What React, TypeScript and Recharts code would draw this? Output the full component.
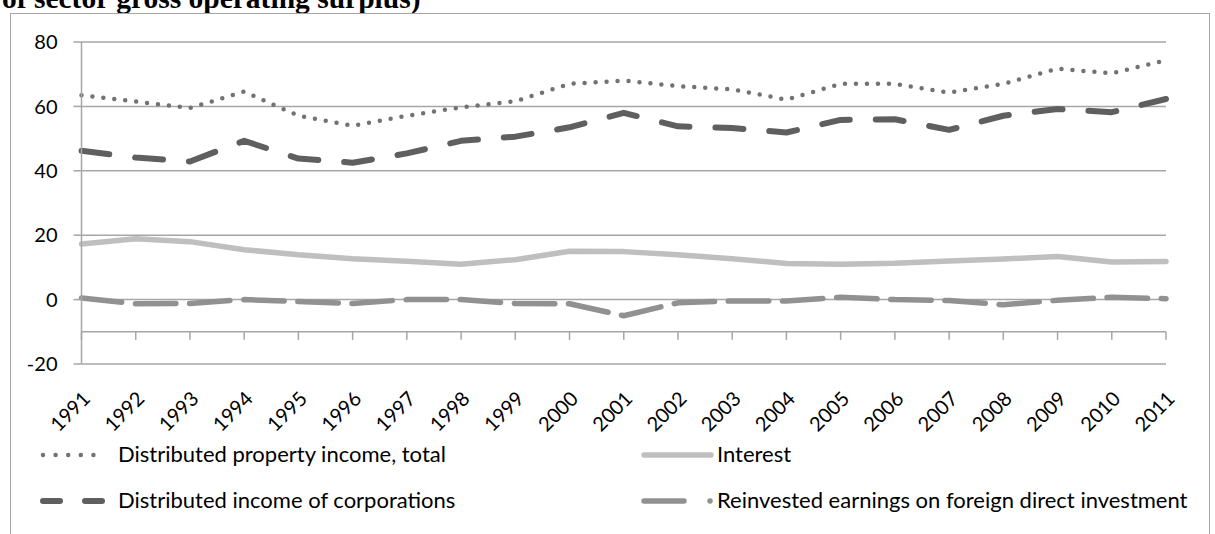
import React from "react";
import { LineChart, Line, XAxis, YAxis, ReferenceLine } from "recharts";

const years = [
  "1991", "1992", "1993", "1994", "1995", "1996", "1997", "1998", "1999", "2000",
  "2001", "2002", "2003", "2004", "2005", "2006", "2007", "2008", "2009", "2010", "2011",
];

const totalIncome = [63.5, 61.5, 59.5, 64.6, 57.1, 54.0, 57.1, 59.7, 61.6, 67.0, 68.0, 66.3, 65.3, 62.1, 67.0, 67.0, 64.3, 67.0, 71.7, 70.3, 74.3];
const interest = [17.3, 18.9, 18.0, 15.5, 13.9, 12.7, 11.9, 11.0, 12.4, 15.0, 14.9, 13.9, 12.7, 11.2, 11.0, 11.3, 12.0, 12.6, 13.4, 11.7, 11.8];
const corporations = [46.2, 44.1, 42.9, 49.3, 43.8, 42.5, 45.4, 49.3, 50.6, 53.5, 58.0, 53.8, 53.3, 51.9, 55.8, 56.0, 52.7, 57.1, 59.2, 58.2, 62.3];
const reinvested = [0.5, -1.3, -1.2, 0.0, -0.6, -1.2, 0.0, 0.0, -1.2, -1.3, -5.0, -1.0, -0.4, -0.4, 0.7, 0.0, -0.3, -1.6, -0.2, 0.7, 0.3];

const yTicks = [-20, 0, 20, 40, 60, 80];
const axisCrossing = -10;

const data = years.map((year, i) => ({
  year,
  total: totalIncome[i],
  interest: interest[i],
  corporations: corporations[i],
  reinvested: reinvested[i],
}));

const GRID = "#a6a6a6";
const FONT = "Lato, 'Open Sans', sans-serif";

const series = [
  { key: "total", name: "Distributed property income, total", color: "#727272", width: 4.5, dash: "0 11", legendDash: "0 12.6", col: 0, row: 0 },
  { key: "interest", name: "Interest", color: "#bfbfbf", width: 5.5, dash: undefined, legendDash: undefined, col: 1, row: 0 },
  { key: "corporations", name: "Distributed income of corporations", color: "#5f5f5f", width: 6, dash: "28 26", legendDash: "17 25", col: 0, row: 1 },
  { key: "reinvested", name: "Reinvested earnings on foreign direct investment", color: "#919191", width: 5.5, dash: "40.5 13.7", legendDash: "40 26 0.01 100", col: 1, row: 1 },
];

const XTick = (props: any) => {
  const { x, y, payload } = props;
  return (
    <text
      x={0}
      y={0}
      transform={`translate(${x + 10},${y + 36}) rotate(-45)`}
      textAnchor="end"
      fontSize={20}
      fontFamily={FONT}
      fill="#000"
    >
      {payload.value}
    </text>
  );
};

// legend drawn like the spreadsheet one: two columns, two rows
const legendCols = [
  { sampleX: 43, sampleLen: 61, textX: 118 },
  { sampleX: 644, sampleLen: 67, textX: 717 },
];
const legendRows = [455, 501];

function ChartLegend() {
  return (
    <div style={{ position: "absolute", left: 0, top: 0, width: 1215, height: 534, pointerEvents: "none" }}>
      <svg width={1215} height={534} style={{ position: "absolute", left: 0, top: 0 }}>
        {series.map((s) => {
          const c = legendCols[s.col];
          const cy = legendRows[s.row];
          return (
            <line
              key={s.key}
              x1={c.sampleX}
              x2={c.sampleX + c.sampleLen}
              y1={cy}
              y2={cy}
              stroke={s.color}
              strokeWidth={s.width}
              strokeDasharray={s.legendDash}
              strokeLinecap="round"
            />
          );
        })}
      </svg>
      {series.map((s) => (
        <div
          key={s.key}
          style={{
            position: "absolute",
            left: legendCols[s.col].textX,
            top: legendRows[s.row] - 14,
            fontFamily: FONT,
            fontSize: 22,
            lineHeight: "26px",
            color: "#000",
            whiteSpace: "nowrap",
          }}
        >
          {s.name}
        </div>
      ))}
    </div>
  );
}

export default function App() {
  return (
    <div
      style={{
        position: "absolute",
        left: 0,
        top: 0,
        width: 1215,
        height: 534,
        overflow: "hidden",
        background: "#fff",
      }}
    >
      <div
        style={{
          position: "absolute",
          left: 2,
          top: -16,
          fontFamily: "'Liberation Serif', 'Times New Roman', serif",
          fontWeight: "bold",
          fontSize: 29.5,
          lineHeight: "29.5px",
          whiteSpace: "nowrap",
          color: "#000",
        }}
      >
        of sector gross operating surplus)
      </div>
      <div
        style={{
          position: "absolute",
          left: 10,
          top: 13,
          width: 1200,
          height: 600,
          border: `1.3px solid ${GRID}`,
          boxSizing: "border-box",
        }}
      />
      <div style={{ position: "absolute", left: 0, top: 0 }}>
        <LineChart
          width={1215}
          height={534}
          data={data}
          margin={{ top: 42, right: 49, left: 21.5, bottom: 110 }}
        >
          {yTicks.map((t) => (
            <ReferenceLine key={`g${t}`} y={t} stroke={GRID} strokeWidth={1.5} />
          ))}
          <ReferenceLine y={axisCrossing} stroke={GRID} strokeWidth={1.5} />
          {years.map((yr) => (
            <ReferenceLine
              key={`t${yr}`}
              segment={[
                { x: yr, y: axisCrossing },
                { x: yr, y: axisCrossing - 2.5 },
              ]}
              stroke={GRID}
              strokeWidth={1.5}
            />
          ))}
          <XAxis
            dataKey="year"
            height={60}
            axisLine={false}
            tickLine={false}
            tickSize={0}
            tickMargin={0}
            interval={0}
            tick={<XTick />}
          />
          <YAxis
            width={60}
            domain={[-20, 80]}
            ticks={yTicks}
            interval={0}
            tickSize={8}
            tickMargin={16}
            axisLine={{ stroke: GRID, strokeWidth: 1.5 }}
            tickLine={{ stroke: GRID, strokeWidth: 1.5 }}
            tick={{ fontSize: 20, fontFamily: FONT, fill: "#000" }}
          />
          {series.map((s) => (
            <Line
              key={s.key}
              type="linear"
              dataKey={s.key}
              name={s.name}
              stroke={s.color}
              strokeWidth={s.width}
              strokeDasharray={s.dash}
              strokeLinecap="round"
              strokeLinejoin="round"
              dot={false}
              activeDot={false}
              isAnimationActive={false}
            />
          ))}
        </LineChart>
      </div>
      <ChartLegend />
    </div>
  );
}
